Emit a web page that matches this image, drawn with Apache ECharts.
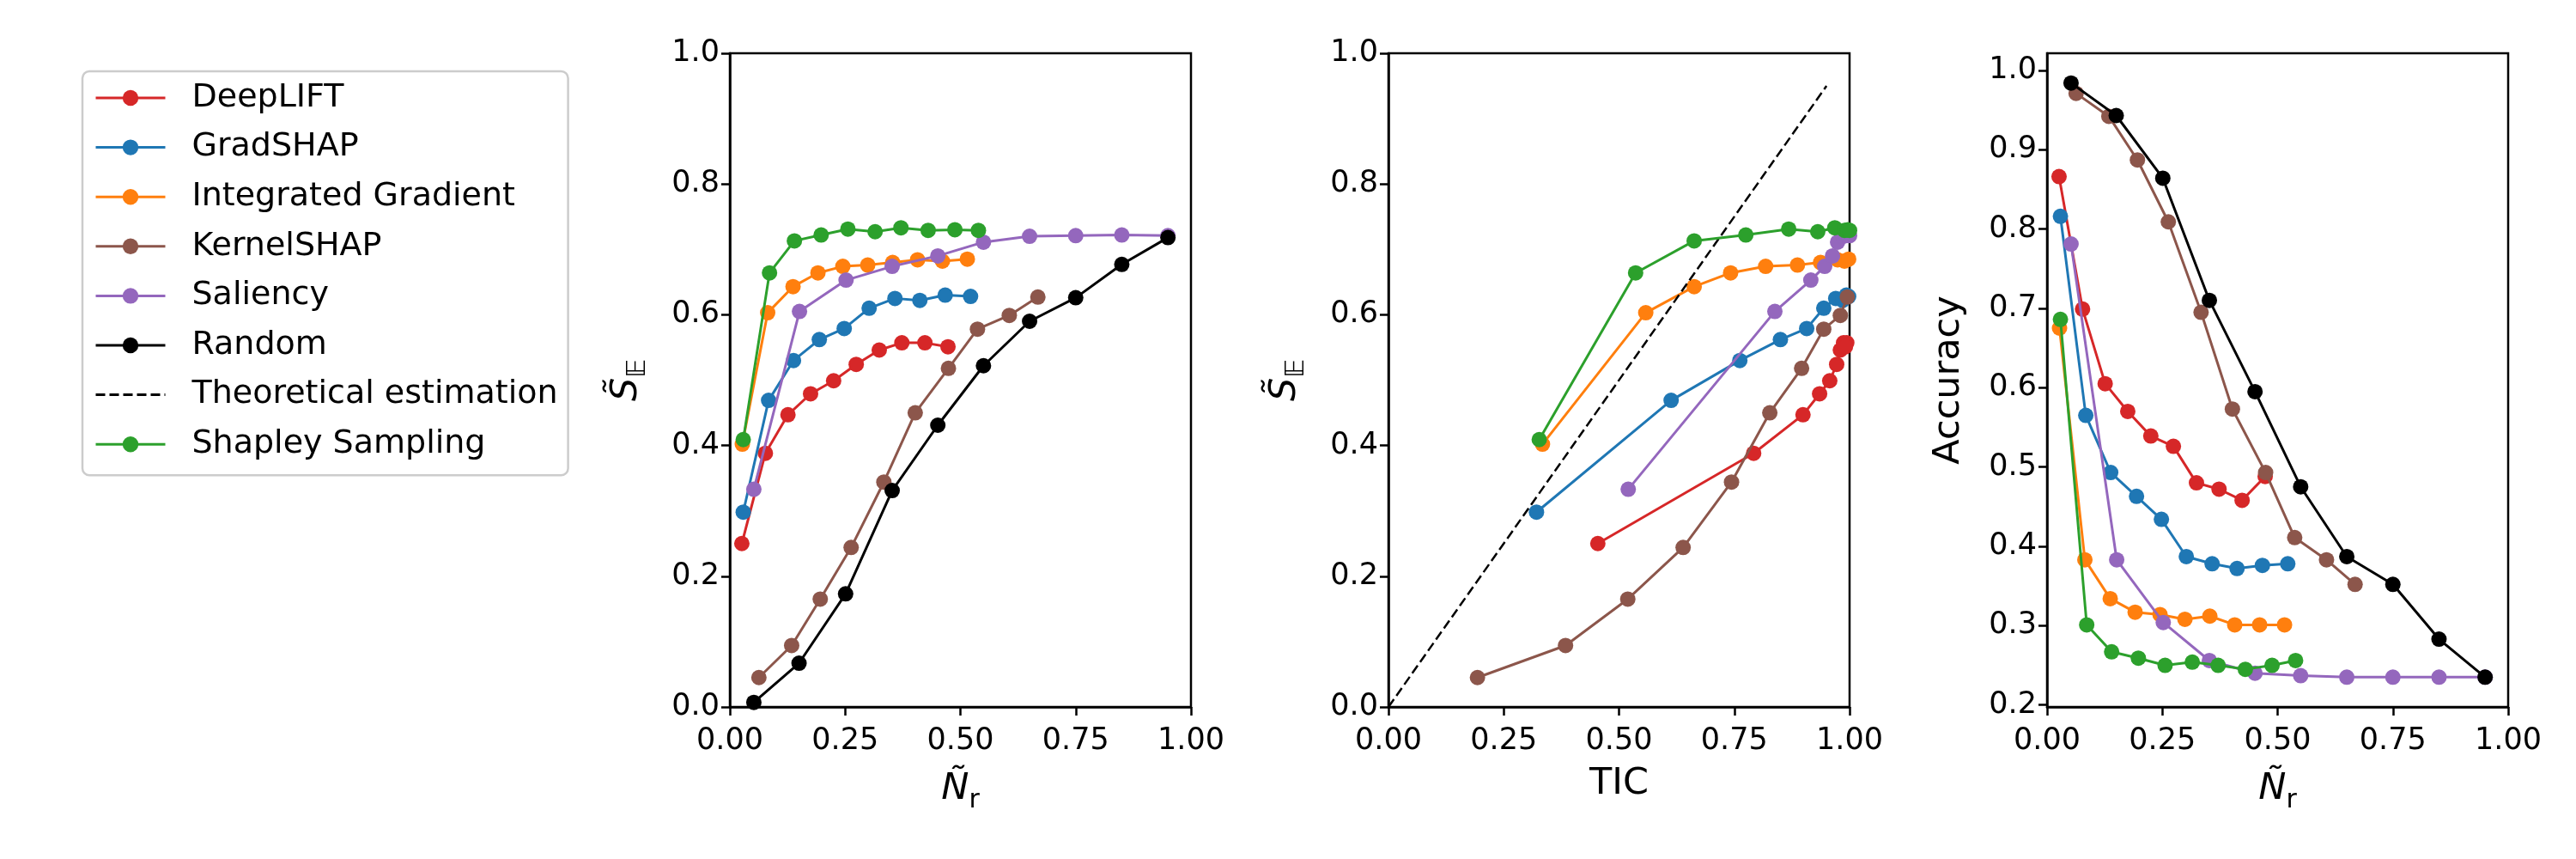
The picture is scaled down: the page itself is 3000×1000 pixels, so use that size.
<!DOCTYPE html>
<html>
<head>
<meta charset="utf-8">
<title>Attribution metrics</title>
<script src="https://cdn.jsdelivr.net/npm/echarts@6.0.0/dist/echarts.min.js"></script>
<style>
  html, body { margin: 0; padding: 0; background: #fff; }
  #chart { width: 3000px; height: 1000px; }
</style>
</head>
<body>
<div id="chart"></div>
<script>
const FONT = 'DejaVu Sans';

// legend / series order as plotted
const methods = ['DeepLIFT', 'GradSHAP', 'Integrated Gradient', 'KernelSHAP', 'Saliency', 'Random', 'Theoretical estimation', 'Shapley Sampling'];
const colors = ['#d62728', '#1f77b4', '#ff7f0e', '#8c564b', '#9467bd', '#000000', '#000000', '#2ca02c'];

// x of panels 1 and 3 (N_r), y of panels 1 and 2 (S_E), x of panel 2 (TIC), y of panel 3 (accuracy)
const nrDeepLIFT = [0.026, 0.077, 0.126, 0.175, 0.225, 0.274, 0.324, 0.373, 0.423, 0.473];
const sDeepLIFT = [0.250, 0.388, 0.447, 0.479, 0.499, 0.524, 0.546, 0.557, 0.557, 0.551];
const ticDeepLIFT = [0.454, 0.792, 0.899, 0.935, 0.957, 0.972, 0.980, 0.987, 0.994, 0.991];
const accDeepLIFT = [0.866, 0.699, 0.605, 0.570, 0.539, 0.526, 0.480, 0.472, 0.458, 0.488];

const nrGradSHAP = [0.029, 0.084, 0.138, 0.194, 0.248, 0.302, 0.358, 0.412, 0.467, 0.522];
const sGradSHAP = [0.298, 0.469, 0.530, 0.562, 0.579, 0.610, 0.625, 0.622, 0.630, 0.628];
const ticGradSHAP = [0.321, 0.613, 0.762, 0.850, 0.907, 0.944, 0.970, 0.985, 0.993, 0.998];
const accGradSHAP = [0.816, 0.565, 0.493, 0.463, 0.434, 0.387, 0.378, 0.372, 0.376, 0.378];

const nrIG = [0.027, 0.082, 0.137, 0.191, 0.245, 0.299, 0.353, 0.407, 0.461, 0.515];
const sIG = [0.402, 0.603, 0.643, 0.664, 0.674, 0.676, 0.680, 0.684, 0.682, 0.685];
const ticIG = [0.334, 0.558, 0.663, 0.742, 0.818, 0.887, 0.937, 0.974, 0.989, 0.998];
const accIG = [0.675, 0.383, 0.334, 0.317, 0.314, 0.308, 0.312, 0.301, 0.301, 0.301];

const nrKernelSHAP = [0.063, 0.134, 0.196, 0.263, 0.334, 0.402, 0.474, 0.537, 0.606, 0.668];
const sKernelSHAP = [0.045, 0.094, 0.165, 0.244, 0.344, 0.450, 0.518, 0.578, 0.599, 0.627];
const ticKernelSHAP = [0.193, 0.384, 0.519, 0.639, 0.744, 0.827, 0.896, 0.944, 0.980, 0.995];
const accKernelSHAP = [0.971, 0.942, 0.887, 0.809, 0.695, 0.573, 0.493, 0.411, 0.383, 0.352];

const nrSaliency = [0.052, 0.151, 0.252, 0.352, 0.451, 0.550, 0.650, 0.750, 0.850, 0.950];
const sSaliency = [0.333, 0.605, 0.653, 0.674, 0.690, 0.711, 0.720, 0.721, 0.722, 0.721];
const ticSaliency = [0.520, 0.838, 0.916, 0.946, 0.963, 0.974, 0.985, 0.992, 0.996, 1.0];
const accSaliency = [0.781, 0.383, 0.304, 0.256, 0.240, 0.237, 0.235, 0.235, 0.235, 0.235];

const nrRandom = [0.052, 0.150, 0.251, 0.352, 0.451, 0.550, 0.650, 0.750, 0.850, 0.950];
const sRandom = [0.007, 0.067, 0.173, 0.331, 0.431, 0.522, 0.590, 0.626, 0.677, 0.718];
const accRandom = [0.984, 0.943, 0.864, 0.710, 0.595, 0.475, 0.387, 0.352, 0.283, 0.235];

const ticTheory = [0.0, 0.95];
const sTheory = [0.0, 0.95];

const nrShapley = [0.029, 0.086, 0.140, 0.198, 0.256, 0.315, 0.371, 0.430, 0.488, 0.539];
const sShapley = [0.409, 0.664, 0.713, 0.722, 0.731, 0.727, 0.733, 0.729, 0.730, 0.729];
const ticShapley = [0.327, 0.536, 0.663, 0.775, 0.868, 0.931, 0.968, 0.989, 0.996, 1.0];
const accShapley = [0.686, 0.301, 0.267, 0.259, 0.250, 0.254, 0.250, 0.245, 0.250, 0.256];

const accTicks = [0.2, 0.3, 0.4, 0.5, 0.6, 0.7, 0.8, 0.9, 1.0];

// [panel1 x, panel1/2 y, panel2 x, panel3 y] per method, null where not drawn
const table = [
  [nrDeepLIFT, sDeepLIFT, ticDeepLIFT, accDeepLIFT],
  [nrGradSHAP, sGradSHAP, ticGradSHAP, accGradSHAP],
  [nrIG, sIG, ticIG, accIG],
  [nrKernelSHAP, sKernelSHAP, ticKernelSHAP, accKernelSHAP],
  [nrSaliency, sSaliency, ticSaliency, accSaliency],
  [nrRandom, sRandom, null, accRandom],
  [null, sTheory, ticTheory, null],
  [nrShapley, sShapley, ticShapley, accShapley],
];

const black = '#000';
const nameRich = {
  m: { fontFamily: FONT, fontSize: 43, fontStyle: 'italic', color: black, lineHeight: 56 },
  s: { fontFamily: FONT, fontSize: 30, color: black, lineHeight: 34, verticalAlign: 'bottom' },
};
const NR_NAME = '{m|Ñ}{s|r}';
const SE_NAME = '{m|S\u0303}{s|𝔼}';

const tickStyle = { show: true, length: 10, lineStyle: { color: black, width: 2.5 } };

function valueAxis(idx, opts) {
  return Object.assign({
    type: 'value',
    gridIndex: idx,
    nameLocation: 'middle',
    nameTextStyle: { fontFamily: FONT, fontSize: 43, color: black, rich: nameRich },
    axisLine: { show: true, onZero: false, lineStyle: { color: black, width: 2.5 } },
    axisTick: tickStyle,
    splitLine: { show: false },
  }, opts);
}

function labels(fmt, margin, extra) {
  return Object.assign({ fontFamily: FONT, fontSize: 35, color: black, margin: margin, formatter: fmt }, extra);
}

const fix2 = v => v.toFixed(2);
const fix1 = v => v.toFixed(1);

const xAxes = [
  valueAxis(0, { min: 0, max: 1, interval: 0.25, name: NR_NAME, nameGap: 68, axisLabel: labels(fix2, 22) }),
  valueAxis(1, { min: 0, max: 1, interval: 0.25, name: 'TIC', nameGap: 68, axisLabel: labels(fix2, 22) }),
  valueAxis(2, { min: 0, max: 1, interval: 0.25, name: NR_NAME, nameGap: 68, axisLabel: labels(fix2, 22) }),
];
const yAxes = [
  valueAxis(0, { min: 0, max: 1, interval: 0.2, name: SE_NAME, nameGap: 92, nameRotate: 90, axisLabel: labels(fix1, 12) }),
  valueAxis(1, { min: 0, max: 1, interval: 0.2, name: SE_NAME, nameGap: 92, nameRotate: 90, axisLabel: labels(fix1, 12) }),
  valueAxis(2, {
    min: 0.1975, max: 1.0215, name: 'Accuracy', nameGap: 93, nameRotate: 90,
    axisLabel: labels(fix1, 12, { customValues: accTicks }),
    axisTick: Object.assign({ customValues: accTicks }, tickStyle),
  }),
];

const gridBox = { show: true, borderColor: black, borderWidth: 2.5, top: 62, height: 761, width: 537 };
const grids = [
  Object.assign({ left: 850 }, gridBox),
  Object.assign({ left: 1617 }, gridBox),
  Object.assign({ left: 2384 }, gridBox),
];

const series = [];
// panel p: 0 -> (N_r, S), 1 -> (TIC, S), 2 -> (N_r, acc)
[[0, 1], [2, 1], [0, 3]].forEach(([xi, yi], p) => {
  table.forEach((row, m) => {
    const xs = row[xi], ys = row[yi];
    if (!xs || !ys) return;
    const dashed = methods[m] === 'Theoretical estimation';
    series.push({
      type: 'line',
      name: methods[m],
      xAxisIndex: p,
      yAxisIndex: p,
      data: xs.map((x, i) => [x, ys[i]]),
      symbol: dashed ? 'none' : 'circle',
      symbolSize: 18,
      showSymbol: !dashed,
      lineStyle: { color: colors[m], width: dashed ? 2.5 : 3, type: dashed ? [11, 5] : 'solid' },
      itemStyle: { color: colors[m] },
      emphasis: { disabled: true },
      z: 2 + m,
    });
  });
});

// the dashed entry has no marker in the legend
const legendData = methods.map(name =>
  name === 'Theoretical estimation'
    ? { name: name, itemStyle: { opacity: 0 } }
    : { name: name }
);

const chart = echarts.init(document.getElementById('chart'));
chart.setOption({
  animation: false,
  backgroundColor: '#fff',
  legend: {
    orient: 'vertical',
    left: 96,
    top: 83,
    padding: [12, 12, 17, 14],
    itemWidth: 81,
    itemHeight: 23,
    itemGap: 19.6,
    backgroundColor: '#fff',
    borderColor: '#cccccc',
    borderWidth: 2.5,
    borderRadius: 8,
    lineStyle: { width: 3 },
    textStyle: { fontFamily: FONT, fontSize: 38, color: black, lineHeight: 38, padding: [0, 0, 0, 26] },
    data: legendData,
  },
  grid: grids,
  xAxis: xAxes,
  yAxis: yAxes,
  series: series,
});
</script>
</body>
</html>
